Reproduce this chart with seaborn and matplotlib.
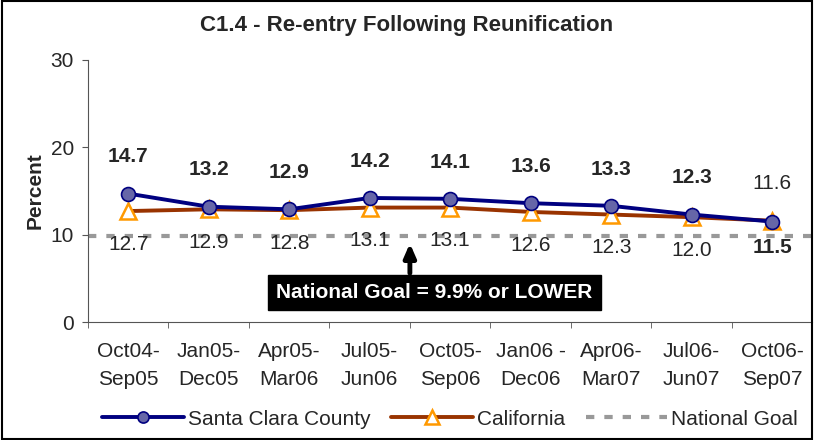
import pandas as pd
import numpy as np
import matplotlib
matplotlib.use('Agg')
import matplotlib.pyplot as plt
import seaborn as sns

# Data
periods = ['Oct04-\nSep05', 'Jan05-\nDec05', 'Apr05-\nMar06', 'Jul05-\nJun06', 'Oct05-\nSep06',
           'Jan06 -\nDec06', 'Apr06-\nMar07', 'Jul06-\nJun07', 'Oct06-\nSep07']
santa_clara = [14.7, 13.2, 12.9, 14.2, 14.1, 13.6, 13.3, 12.3, 11.5]
california = [12.7, 12.9, 12.8, 13.1, 13.1, 12.6, 12.3, 12.0, 11.6]
national_goal = 9.9

sns.set_style('ticks')
plt.rcParams['font.family'] = ['Liberation Sans', 'DejaVu Sans']

df = pd.DataFrame({'x': np.arange(len(periods)), 'Santa Clara County': santa_clara,
                   'California': california})

fs = 15
fig = plt.figure(figsize=(8.14, 4.4), dpi=100)
ax = fig.add_axes([0.108, 0.268, 0.89, 0.596])

# national goal line
ax.plot([-0.5, len(periods) - 0.5], [national_goal, national_goal], color='#999999',
        lw=3, ls=(0, (2, 2.4)), label='National Goal', zorder=1)

sns.lineplot(data=df, x='x', y='California', ax=ax, color='#993300', lw=2.8,
             marker='^', markersize=12, markerfacecolor='white', markeredgecolor='#FF9900',
             markeredgewidth=1.8, label='California', zorder=2)
sns.lineplot(data=df, x='x', y='Santa Clara County', ax=ax, color='#000080', lw=2.8,
             marker='o', markersize=10, markerfacecolor='#6666A8', markeredgecolor='#000080',
             markeredgewidth=1.2, label='Santa Clara County', zorder=3)

# data labels (last point labels swap sides in the original)
n = len(periods)
for i in range(n):
    if i < n - 1:
        ax.text(i, santa_clara[i] + 4.2, f'{santa_clara[i]:.1f}', ha='center', va='center',
                fontsize=fs, fontweight='bold')
        ax.text(i, california[i] - 3.8, f'{california[i]:.1f}', ha='center', va='center',
                fontsize=fs)
    else:
        ax.text(i, california[i] + 4.3, f'{california[i]:.1f}', ha='center', va='center',
                fontsize=fs)
        ax.text(i, santa_clara[i] - 3.0, f'{santa_clara[i]:.1f}', ha='center', va='center',
                fontsize=fs, fontweight='bold')

# goal callout
ax.annotate('', xy=(3.5, national_goal - 0.9), xytext=(3.5, 5.6),
            arrowprops=dict(arrowstyle='-|>,head_width=0.35,head_length=0.8', color='black',
                            lw=3.5, shrinkA=0, shrinkB=0), zorder=4)
ax.text(3.8, 3.4, 'National Goal = 9.9% or LOWER', ha='center', va='center', color='white',
        fontsize=fs, fontweight='bold',
        bbox=dict(boxstyle='square,pad=0.4', facecolor='black', edgecolor='black'))

ax.set_xlim(-0.5, n - 0.5)
ax.set_ylim(0, 30)
ax.set_yticks([0, 10, 20, 30])
ax.set_xticks(np.arange(n))
ax.set_xticklabels(periods, linespacing=1.6)
ax.set_xticks(np.arange(n + 1) - 0.5, minor=True)
ax.tick_params(axis='x', which='major', length=0, labelsize=fs, pad=14)
ax.tick_params(axis='x', which='minor', length=4, color='#555555')
ax.tick_params(axis='y', labelsize=fs, length=4, color='#555555', pad=6)
ax.set_xlabel('')
ax.set_ylabel('Percent', fontsize=fs, fontweight='bold', labelpad=4)
sns.despine(ax=ax)
ax.spines['left'].set_color('#555555')
ax.spines['bottom'].set_color('#555555')

fig.suptitle('C1.4 - Re-entry Following Reunification', y=0.965, fontsize=16, fontweight='bold')

handles, labels = ax.get_legend_handles_labels()
order = [labels.index('Santa Clara County'), labels.index('California'), labels.index('National Goal')]
ax.legend([handles[k] for k in order], [labels[k] for k in order], loc='center',
          bbox_to_anchor=(0.5, -0.37), ncol=3, frameon=False, fontsize=fs,
          handlelength=3.9, handletextpad=0.2, columnspacing=1.0, markerscale=0.8)

fig.patches.append(plt.Rectangle((0.002, 0.003), 0.996, 0.994, transform=fig.transFigure,
                                 fill=False, edgecolor='black', lw=1.5))

fig.savefig('out.png', dpi=100)
